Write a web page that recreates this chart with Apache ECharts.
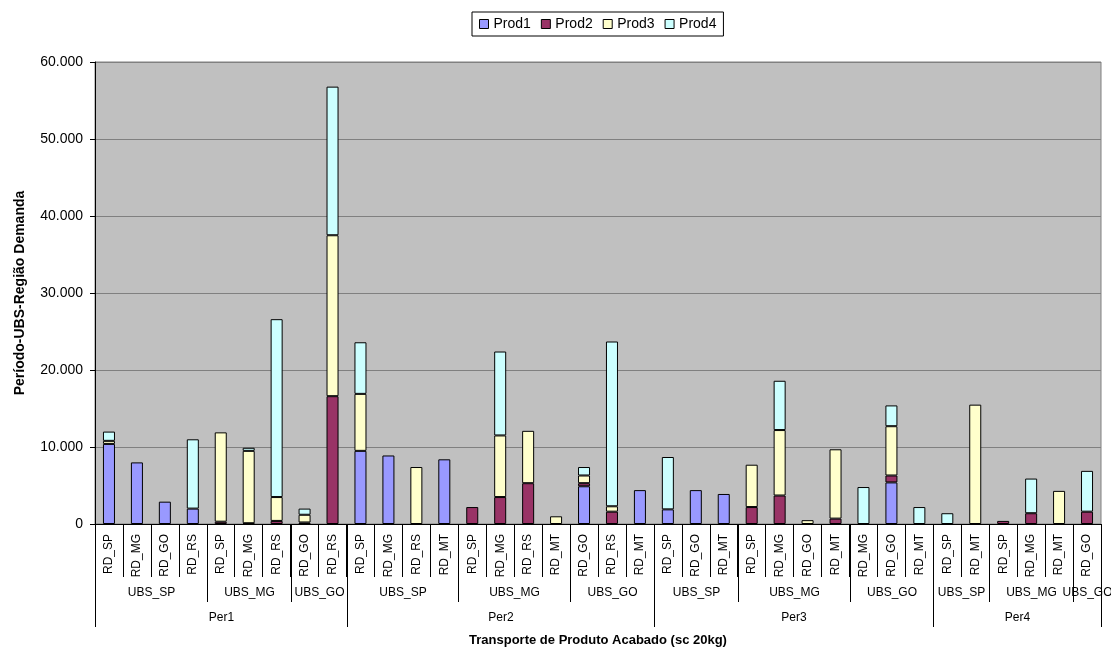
<!DOCTYPE html>
<html>
<head>
<meta charset="utf-8">
<script src="https://cdn.jsdelivr.net/npm/echarts@6/dist/echarts.min.js"></script>
<style>
html,body{margin:0;padding:0;background:#fff;}
#chart{width:1111px;height:650px;}
</style>
</head>
<body>
<div id="chart"></div>
<script>
// ---- data ----
const categories = [
  'RD_SP','RD_MG','RD_GO','RD_RS','RD_SP','RD_MG','RD_RS','RD_GO','RD_RS',
  'RD_SP','RD_MG','RD_RS','RD_MT','RD_SP','RD_MG','RD_RS','RD_MT','RD_GO','RD_RS','RD_MT',
  'RD_SP','RD_GO','RD_MT','RD_SP','RD_MG','RD_GO','RD_MT','RD_MG','RD_GO','RD_MT',
  'RD_SP','RD_MT','RD_SP','RD_MG','RD_MT','RD_GO'
];
const ubsLabels = ['UBS_SP','UBS_MG','UBS_GO','UBS_SP','UBS_MG','UBS_GO','UBS_SP','UBS_MG','UBS_GO','UBS_SP','UBS_MG','UBS_GO'];
const ubsSizes  = [4,3,2, 4,4,3, 3,4,3, 2,3,1];
const periodLabels = ['Per1','Per2','Per3','Per4'];
const periodSizes  = [9,11,10,6];

const prod1 = [10400,8000,2900,2000,0,0,0,0,0, 9500,8900,0,8400,0,0,0,0,4900,0,4400, 1900,4400,3900,0,0,0,0,0,5400,0, 0,0,0,0,0,0];
const prod2 = [0,0,0,0,300,100,400,200,16600, 0,0,0,0,2200,3500,5300,0,400,1600,0, 0,0,0,2200,3700,0,700,0,900,0, 0,0,400,1400,0,1600];
const prod3 = [400,0,0,0,11600,9400,3100,1000,20900, 7400,0,7400,0,0,8000,6800,1000,1000,700,0, 0,0,0,5500,8500,500,9000,0,6400,0, 0,15500,0,0,4300,0];
const prod4 = [1200,0,0,9000,0,400,23100,800,19300, 6700,0,0,0,0,10900,0,0,1100,21400,0, 6800,0,0,0,6400,0,0,4800,2700,2200, 1400,0,0,4500,0,5300];

const seriesNames = ['Prod1','Prod2','Prod3','Prod4'];
const seriesColors = ['#9999FF','#993366','#FFFFCC','#CCFFFF'];
const yTicks = {min:0, max:60000, interval:10000};

// ---- build hierarchy spans ----
function buildSpans(labels, sizes, level){
  const out = []; let s = 0;
  labels.forEach((l,i)=>{ out.push({start:s, end:s+sizes[i]-1, label:l, level:level}); s += sizes[i]; });
  return out;
}
const spans = buildSpans(ubsLabels, ubsSizes, 2).concat(buildSpans(periodLabels, periodSizes, 3));

const FONT = "'Liberation Sans', Arial, sans-serif";
const allData = [prod1, prod2, prod3, prod4];

function fmt(v){
  if (v === 0) return '0';
  const s = String(Math.round(v));
  return s.replace(/\B(?=(\d{3})+(?!\d))/g, '.');
}

const barSeries = seriesNames.map((n,i)=>({
  name:n, type:'bar', stack:'total', barWidth:'43%',
  data: allData[i].map(v => v === 0 ? null : v),
  itemStyle:{color:seriesColors[i], borderColor:'#000', borderWidth:1},
  emphasis:{disabled:true}
}));

function renderHier(params, api){
  const sp = spans[params.dataIndex];
  const band = api.size([1,0])[0];
  const xs = Math.round(api.coord([sp.start,0])[0] - band/2) + 0.5;
  const xe = Math.round(api.coord([sp.end,0])[0] + band/2) + 0.5;
  const y0 = api.coord([sp.start,0])[1];
  const depth = sp.level === 2 ? 78 : 103;
  const ty = sp.level === 2 ? 69 : 94;
  const ls = {stroke:'#000', lineWidth:1};
  return {
    type:'group',
    children:[
      {type:'line', shape:{x1:xs,y1:y0,x2:xs,y2:y0+depth}, style:ls},
      {type:'line', shape:{x1:xe,y1:y0,x2:xe,y2:y0+depth}, style:ls},
      {type:'text', x:(xs+xe)/2, y:y0+ty, style:{text:sp.label, fill:'#000', font:'12px ' + FONT, align:'center', verticalAlign:'middle'}}
    ]
  };
}

const chart = echarts.init(document.getElementById('chart'), null, {renderer:'canvas'});
chart.setOption({
  animation:false,
  backgroundColor:'#fff',
  textStyle:{fontFamily:FONT},
  legend:{
    data:seriesNames, top:12, left:472,
    borderColor:'#000', borderWidth:1, padding:[5,7], itemGap:10,
    itemWidth:9, itemHeight:9, icon:'rect',
    itemStyle:{borderColor:'#000', borderWidth:1},
    textStyle:{fontSize:14, color:'#000', fontFamily:FONT}
  },
  grid:{left:95, right:10, top:62, bottom:126, show:true, backgroundColor:'#C0C0C0', borderColor:'#808080', borderWidth:1, containLabel:false, outerBoundsMode:'none'},
  xAxis:{
    type:'category', data:categories,
    name:'Transporte de Produto Acabado (sc 20kg)', nameLocation:'middle', nameGap:110,
    nameTextStyle:{fontSize:13, fontWeight:'bold', color:'#000', fontFamily:FONT},
    axisLine:{lineStyle:{color:'#000', width:1}},
    axisTick:{show:true, interval:0, length:53, lineStyle:{color:'#000'}},
    axisLabel:{interval:0, rotate:90, margin:10, fontSize:12, color:'#000', fontFamily:FONT},
    splitLine:{show:false}
  },
  yAxis:{
    type:'value', min:yTicks.min, max:yTicks.max, interval:yTicks.interval,
    name:'Período-UBS-Região Demanda', nameLocation:'middle', nameGap:68, nameRotate:90,
    nameTextStyle:{fontSize:14, fontWeight:'bold', color:'#000', fontFamily:FONT},
    axisLine:{show:true, lineStyle:{color:'#000'}},
    axisTick:{show:true, length:5, lineStyle:{color:'#000'}},
    axisLabel:{formatter:fmt, fontSize:14, color:'#000', margin:12, fontFamily:FONT},
    splitLine:{lineStyle:{color:'#808080', width:1}}
  },
  series: barSeries.concat([{
    type:'custom', coordinateSystem:'cartesian2d', renderItem:renderHier,
    data: spans.map(s=>[s.start, 0]), clip:false, silent:true, z:5,
    tooltip:{show:false}
  }])
});
</script>
</body>
</html>
